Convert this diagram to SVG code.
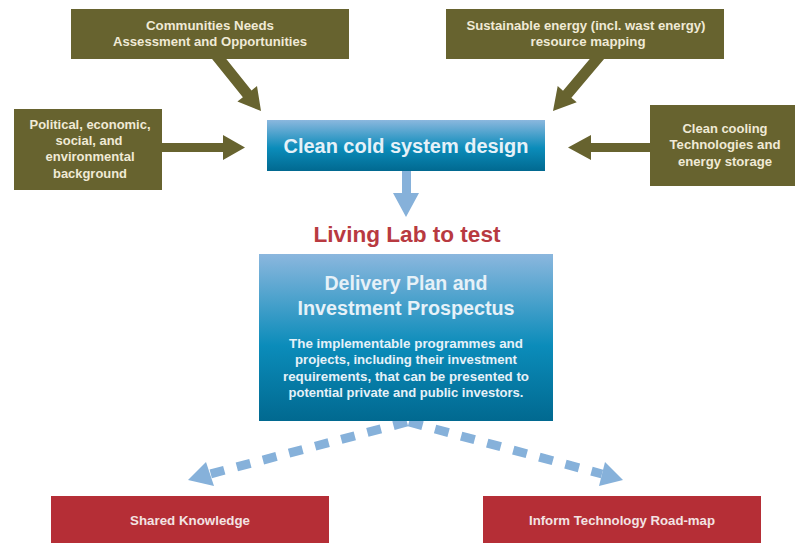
<svg xmlns="http://www.w3.org/2000/svg" width="795" height="543" viewBox="0 0 795 543">
<defs>
<linearGradient id="blueGrad" x1="0" y1="0" x2="0" y2="1">
<stop offset="0" stop-color="#8bb7de"/>
<stop offset="0.55" stop-color="#0b8cba"/>
<stop offset="1" stop-color="#016990"/>
</linearGradient>
<style>
.olive{fill:#67632f}
.otxt{font-family:"Liberation Sans",Arial,sans-serif;font-weight:bold;font-size:13px;fill:#f0ead6;text-anchor:middle}
.red{fill:#b52e36}
.rtxt{font-family:"Liberation Sans",Arial,sans-serif;font-weight:bold;font-size:13.5px;fill:#f3e3e3;text-anchor:middle}
.btxt{font-family:"Liberation Sans",Arial,sans-serif;font-weight:bold;fill:#e6f1f8;text-anchor:middle}
.dash{fill:none;stroke:#86b1da;stroke-width:9;stroke-dasharray:14 13}
.barrow{fill:#86b1da}
</style>
</defs>
<rect width="795" height="543" fill="#ffffff"/>
<g id="connectors">
<polygon class="olive" points="211.7,58.4 220.3,51.6 251.5,90.4 257,86 261,111 237.4,101.6 242.9,97.2"/>
<polygon class="olive" points="600.3,46.5 608.7,53.5 571.4,97.7 576.7,102.3 553,111 557.7,86.1 563,90.7"/>
<polygon class="olive" points="160,143 223,143 223,135 245,147.5 223,160 223,152 160,152"/>
<polygon class="olive" points="660,143 591,143 591,135 568,147.5 591,160 591,152 660,152"/>
<polygon class="barrow" points="402,171 411,171 411,193 419,193 406,217 393,193 402,193"/>
<path class="dash" d="M407,422 L210,474"/>
<polygon class="barrow" points="188,480 206,462 214,486"/>
<path class="dash" d="M409,422 L602,474"/>
<polygon class="barrow" points="623,480 605,462 599,486"/>
</g>
<g id="node-communities">
<rect class="olive" x="71" y="9" width="278" height="50"/>
<text class="otxt" x="210" y="30" textLength="128" lengthAdjust="spacingAndGlyphs">Communities Needs</text>
<text class="otxt" x="210" y="46" textLength="194" lengthAdjust="spacingAndGlyphs">Assessment and Opportunities</text>
</g>
<g id="node-sustainable">
<rect class="olive" x="446" y="9" width="278" height="50"/>
<text class="otxt" x="586" y="30" textLength="239" lengthAdjust="spacingAndGlyphs">Sustainable energy (incl. wast energy)</text>
<text class="otxt" x="588" y="46" textLength="115" lengthAdjust="spacingAndGlyphs">resource mapping</text>
</g>
<g id="node-political">
<rect class="olive" x="14" y="109" width="148" height="81"/>
<text class="otxt" x="90" y="129" textLength="121" lengthAdjust="spacingAndGlyphs">Political, economic,</text>
<text class="otxt" x="89" y="145" textLength="67" lengthAdjust="spacingAndGlyphs">social, and</text>
<text class="otxt" x="90" y="161" textLength="89" lengthAdjust="spacingAndGlyphs">environmental</text>
<text class="otxt" x="90" y="178" textLength="74" lengthAdjust="spacingAndGlyphs">background</text>
</g>
<g id="node-cooling">
<rect class="olive" x="650" y="105" width="145" height="81"/>
<text class="otxt" x="725" y="133" textLength="85" lengthAdjust="spacingAndGlyphs">Clean cooling</text>
<text class="otxt" x="725" y="149" textLength="111" lengthAdjust="spacingAndGlyphs">Technologies and</text>
<text class="otxt" x="725" y="166" textLength="94" lengthAdjust="spacingAndGlyphs">energy storage</text>
</g>
<g id="node-design">
<rect x="267" y="120" width="278" height="51" fill="url(#blueGrad)"/>
<text class="btxt" x="406" y="153" font-size="20" textLength="245" lengthAdjust="spacingAndGlyphs">Clean cold system design</text>
</g>
<g id="label-living-lab">
<text x="407" y="242" font-family="Liberation Sans, Arial, sans-serif" font-weight="bold" font-size="22.5" fill="#b83a41" text-anchor="middle" textLength="187" lengthAdjust="spacingAndGlyphs">Living Lab to test</text>
</g>
<g id="node-delivery">
<rect x="259" y="254" width="294" height="167" fill="url(#blueGrad)"/>
<text class="btxt" x="406" y="290" font-size="19.5" textLength="163" lengthAdjust="spacingAndGlyphs">Delivery Plan and</text>
<text class="btxt" x="406" y="315" font-size="19.5" textLength="217" lengthAdjust="spacingAndGlyphs">Investment Prospectus</text>
<text class="btxt" x="406" y="348" font-size="13" textLength="234" lengthAdjust="spacingAndGlyphs">The implementable programmes and</text>
<text class="btxt" x="406" y="364" font-size="13" textLength="222" lengthAdjust="spacingAndGlyphs">projects, including their investment</text>
<text class="btxt" x="406" y="381" font-size="13" textLength="246" lengthAdjust="spacingAndGlyphs">requirements, that can be presented to</text>
<text class="btxt" x="406" y="397" font-size="13" textLength="235" lengthAdjust="spacingAndGlyphs">potential private and public investors.</text>
</g>
<g id="node-shared">
<rect class="red" x="51" y="496" width="278" height="47"/>
<text class="rtxt" x="190" y="525" textLength="120" lengthAdjust="spacingAndGlyphs">Shared Knowledge</text>
</g>
<g id="node-roadmap">
<rect class="red" x="483" y="496" width="278" height="47"/>
<text class="rtxt" x="622" y="525" textLength="186" lengthAdjust="spacingAndGlyphs">Inform Technology Road-map</text>
</g>
</svg>
